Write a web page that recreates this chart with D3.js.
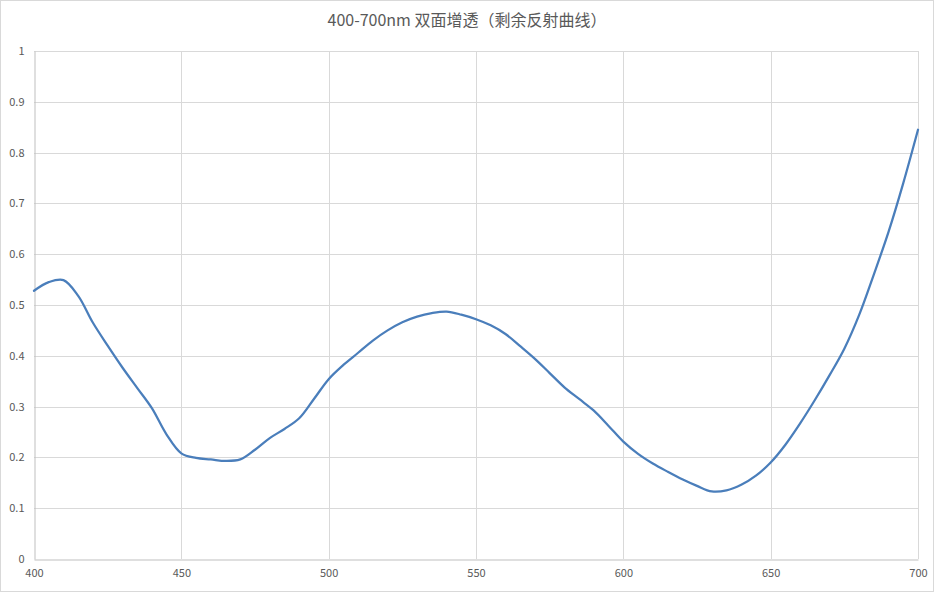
<!DOCTYPE html>
<html><head><meta charset="utf-8">
<script src="https://cdn.jsdelivr.net/npm/d3@7"></script>
<style>body{margin:0;background:#fff}svg{display:block}</style>
</head><body>
<svg id="chart" width="934" height="592"></svg>
<script>
const title = "400-700nm 双面增透（剩余反射曲线）";
const wavelengths = [400,405,410,415,420,425,430,435,440,445,450,455,460,465,470,475,480,485,490,495,500,505,510,515,520,525,530,535,540,545,550,555,560,565,570,575,580,585,590,595,600,605,610,615,620,625,630,635,640,645,650,655,660,665,670,675,680,685,690,695,700];
const reflectance = [0.528,0.545,0.549,0.518,0.465,0.420,0.377,0.337,0.297,0.245,0.208,0.199,0.196,0.193,0.196,0.215,0.238,0.256,0.277,0.315,0.354,0.382,0.406,0.430,0.450,0.466,0.477,0.484,0.487,0.481,0.472,0.460,0.443,0.419,0.394,0.366,0.338,0.315,0.292,0.262,0.231,0.207,0.188,0.172,0.157,0.144,0.133,0.135,0.146,0.164,0.190,0.225,0.267,0.313,0.362,0.414,0.480,0.560,0.644,0.740,0.845];
const xTicks = [400,450,500,550,600,650,700];
const yTicks = [0,0.1,0.2,0.3,0.4,0.5,0.6,0.7,0.8,0.9,1];

const svg = d3.select("#chart");
const W = 934, H = 592;
const m = {left:34, right:16, top:51, bottom:33};
const x = d3.scaleLinear().domain([400,700]).range([m.left, W-m.right]);
const y = d3.scaleLinear().domain([0,1]).range([H-m.bottom, m.top]);
const font = "'Noto Sans CJK SC','Noto Sans',sans-serif";

svg.append("rect").attr("x",0.5).attr("y",0.5).attr("width",W-1).attr("height",H-1)
  .attr("fill","#fff").attr("stroke","#d9d9d9");

svg.append("text").attr("x",W/2).attr("y",26).attr("text-anchor","middle")
  .attr("font-family",font).attr("font-size",16).attr("fill","#595959").text(title);

// grid
svg.append("g").selectAll("line").data(yTicks.filter(d=>d>0)).join("line")
  .attr("x1",m.left).attr("x2",W-m.right)
  .attr("y1",d=>Math.round(y(d))+0.5).attr("y2",d=>Math.round(y(d))+0.5)
  .attr("stroke","#d9d9d9");
svg.append("g").selectAll("line").data(xTicks.filter(d=>d>400)).join("line")
  .attr("y1",m.top).attr("y2",H-m.bottom)
  .attr("x1",d=>Math.round(x(d))+0.5).attr("x2",d=>Math.round(x(d))+0.5)
  .attr("stroke","#d9d9d9");

// axes
const xAxis = svg.append("g").attr("transform",`translate(0,${Math.round(y(0))+0.5})`)
  .call(d3.axisBottom(x).tickValues(xTicks).tickSize(0).tickPadding(10).tickFormat(d3.format("d")));
xAxis.select(".domain").attr("stroke","#bfbfbf");
const yAxis = svg.append("g").attr("transform",`translate(${Math.round(x(400))+0.5},0)`)
  .call(d3.axisLeft(y).tickValues(yTicks).tickSize(0).tickPadding(10).tickFormat(d=>d3.format("~g")(d)));
yAxis.select(".domain").attr("stroke","#bfbfbf");
svg.selectAll(".tick text").attr("font-family",font).attr("font-size",11).attr("fill","#595959");

// line
svg.append("path").datum(wavelengths.map((w,i)=>[w,reflectance[i]]))
  .attr("fill","none").attr("stroke","#4a7ebb").attr("stroke-width",2.25)
  .attr("stroke-linejoin","round").attr("stroke-linecap","round")
  .attr("d", d3.line().x(d=>x(d[0])).y(d=>y(d[1])).curve(d3.curveCatmullRom.alpha(0.5)));
</script>
</body></html>
